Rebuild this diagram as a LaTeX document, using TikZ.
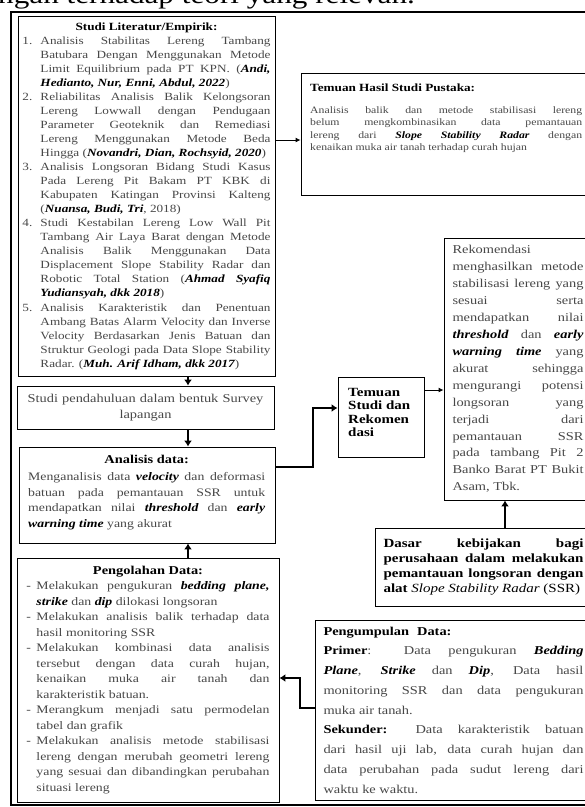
\documentclass[tikz,border=0pt]{standalone}
\usepackage{fontspec}
\setmainfont{Liberation Serif}[FakeStretch=1.2]
\usetikzlibrary{arrows.meta}
\definecolor{txt}{gray}{0.28}
\newcommand\SP{\spaceskip=0pt\xspaceskip=0pt\relax}
\newcommand\B[1]{\textcolor{black}{\bfseries #1}}
\newcommand\BI[1]{\textcolor{black}{\bfseries\itshape #1}}
\newcommand\JW[2]{\makebox[#1][s]{\SP #2}}
\newcommand\NI[2]{\makebox[18pt][l]{#1}\JW{230pt}{#2}}
\newcommand\CJ[1]{\hspace*{18pt}\JW{230pt}{#1}}
\newcommand\CL[1]{\hspace*{18pt}#1}
\newcommand\DashJ[1]{\makebox[10pt][l]{-}\JW{233pt}{#1}}
\newcommand\DashC[1]{\hspace*{10pt}\JW{233pt}{#1}}
\newcommand\DashL[1]{\hspace*{10pt}#1}
\newcommand\TS{\rule{0pt}{10pt}}
\tikzset{
  bx/.style={draw, line width=0.9pt, inner sep=0pt, rectangle},
  tx/.style={inner sep=0pt, align=left, text=txt},
  thinarr/.style={line width=0.9pt, -{Latex[length=5pt,width=5pt]}},
  thickarr/.style={line width=2.4pt, -{Latex[length=6pt,width=8pt]}},
}
\begin{document}
\begin{tikzpicture}[x=1pt,y=-1pt]
\useasboundingbox (0,0) rectangle (585,807);

% cut-off line of text at the top
\node[anchor=base west, inner sep=0pt, font=\fontsize{26}{26}\selectfont] (toptext) at (-2,3.7) {ngan terhadap teori yang relevan.};

% outer frame
\draw[line width=1.4pt] (600,12) -- (11,12) -- (11,805) -- (600,805);

% Studi literatur
\node[bx, minimum width=257pt, minimum height=360pt, text width=248pt, tx, font=\fontsize{11}{14.05}\selectfont] (lit) at (146.5,196) {\SP
\makebox[248pt]{\B{Studi Literatur/Empirik:}}\\
\NI{1.}{Analisis Stabilitas Lereng Tambang}\\
\CJ{Batubara Dengan Menggunakan Metode}\\
\CJ{Limit Equilibrium pada PT KPN. (\BI{Andi,}}\\
\CL{\BI{Hedianto, Nur, Enni, Abdul, 2022})}\\
\NI{2.}{Reliabilitas Analisis Balik Kelongsoran}\\
\CJ{Lereng Lowwall dengan Pendugaan}\\
\CJ{Parameter Geoteknik dan Remediasi}\\
\CJ{Lereng Menggunakan Metode Beda}\\
\CL{Hingga (\BI{Novandri, Dian, Rochsyid, 2020})}\\
\NI{3.}{Analisis Longsoran Bidang Studi Kasus}\\
\CJ{Pada Lereng Pit Bakam PT KBK di}\\
\CJ{Kabupaten Katingan Provinsi Kalteng}\\
\CL{(\BI{Nuansa, Budi, Tri}, 2018)}\\
\NI{4.}{Studi Kestabilan Lereng Low Wall Pit}\\
\CJ{Tambang Air Laya Barat dengan Metode}\\
\CJ{Analisis Balik Menggunakan Data}\\
\CJ{Displacement Slope Stability Radar dan}\\
\CJ{Robotic Total Station (\BI{Ahmad Syafiq}}\\
\CL{\BI{Yudiansyah, dkk 2018})}\\
\NI{5.}{Analisis Karakteristik dan Penentuan}\\
\CJ{Ambang Batas Alarm Velocity dan Inverse}\\
\CJ{Velocity Berdasarkan Jenis Batuan dan}\\
\CJ{Struktur Geologi pada Data Slope Stability}\\
\CL{Radar. (\BI{Muh. Arif Idham, dkk 2017})}};

% Studi pendahuluan
\node[bx, minimum width=257pt, minimum height=43pt, text width=250pt, tx, align=center, font=\fontsize{12}{16}\selectfont] (pend) at (145.5,407.5) {\SP Studi pendahuluan dalam bentuk Survey\\lapangan};

% Analisis data
\node[bx, minimum width=256pt, minimum height=96pt] (anal) at (147,495) {};
\node[tx, anchor=north west, text width=237pt, font=\fontsize{11.5}{15.5}\selectfont] (analtx) at (28,453) {\SP
\TS\makebox[237pt]{\B{\fontsize{12}{15.5}\selectfont Analisis data:}}\\[2pt]
\JW{237pt}{Menganalisis data \BI{velocity} dan deformasi}\\
\JW{237pt}{batuan pada pemantauan SSR untuk}\\
\JW{237pt}{mendapatkan nilai \BI{threshold} dan \BI{early}}\\
\BI{warning time} yang akurat};

% Pengolahan data
\node[bx, minimum width=262pt, minimum height=244pt, text width=243pt, tx, font=\fontsize{11.5}{15.5}\selectfont] (olah) at (148,680) {\SP
\makebox[243pt]{\B{\fontsize{12}{15.5}\selectfont Pengolahan Data:}}\\
\DashJ{Melakukan pengukuran \BI{bedding plane,}}\\
\DashL{\BI{strike} dan \BI{dip} dilokasi longsoran}\\
\DashJ{Melakukan analisis balik terhadap data}\\
\DashL{hasil monitoring SSR}\\
\DashJ{Melakukan kombinasi data analisis}\\
\DashC{tersebut dengan data curah hujan,}\\
\DashC{kenaikan muka air tanah dan}\\
\DashL{karakteristik batuan.}\\
\DashJ{Merangkum menjadi satu permodelan}\\
\DashL{tabel dan grafik}\\
\DashJ{Melakukan analisis metode stabilisasi}\\
\DashC{lereng dengan merubah geometri lereng}\\
\DashC{yang sesuai dan dibandingkan perubahan}\\
\DashL{situasi lereng}};

% Temuan hasil studi pustaka
\node[bx, minimum width=291pt, minimum height=122pt] (pust) at (446.5,134) {};
\node[tx, anchor=north west, text width=272pt, font=\fontsize{9.8}{12.5}\selectfont] (pusttx) at (310,81.6) {\SP
\TS\B{\fontsize{11}{12.5}\selectfont Temuan Hasil Studi Pustaka:}\\[8.9pt]
\JW{272pt}{Analisis balik dan metode stabilisasi lereng}\\
\JW{272pt}{belum mengkombinasikan data pemantauan}\\
\JW{272pt}{lereng dari \BI{Slope Stability Radar} dengan}\\
kenaikan muka air tanah terhadap curah hujan};

% Temuan studi dan rekomendasi
\node[bx, minimum width=86pt, minimum height=80pt] (temu) at (381,417) {};
\node[tx, text=black, anchor=north west, text width=70pt, font=\bfseries\fontsize{12.5}{13.4}\selectfont] (temutx) at (348,386) {\SP\TS Temuan\\Studi dan\\Rekomen\\dasi};

% Rekomendasi
\node[bx, minimum width=148pt, minimum height=262pt, text width=131pt, tx, font=\fontsize{12}{16.95}\selectfont] (rek) at (518,369) {\SP
Rekomendasi\\
\JW{131pt}{menghasilkan metode}\\
\JW{131pt}{stabilisasi lereng yang}\\
\JW{131pt}{sesuai serta}\\
\JW{131pt}{mendapatkan nilai}\\
\JW{131pt}{\BI{threshold} dan \BI{early}}\\
\JW{131pt}{\BI{warning time} yang}\\
\JW{131pt}{akurat sehingga}\\
\JW{131pt}{mengurangi potensi}\\
\JW{131pt}{longsoran yang}\\
\JW{131pt}{terjadi dari}\\
\JW{131pt}{pemantauan SSR}\\
\JW{131pt}{pada tambang Pit 2}\\
\JW{131pt}{Banko Barat PT Bukit}\\
Asam, Tbk.};

% Dasar kebijakan
\node[bx, minimum width=217pt, minimum height=78pt, text width=200pt, tx, text=black, font=\bfseries\fontsize{12.5}{15}\selectfont] (dasar) at (483.5,567) {\SP
\JW{200pt}{Dasar kebijakan bagi}\\
\JW{200pt}{perusahaan dalam melakukan}\\
\JW{200pt}{pemantauan longsoran dengan}\\
alat {\mdseries\itshape Slope Stability Radar} {\mdseries (SSR)}};

% Pengumpulan data
\node[bx, minimum width=277pt, minimum height=180pt, text width=260pt, tx, font=\fontsize{12}{19.75}\selectfont] (kump) at (453.5,710) {\SP
\B{Pengumpulan\hspace{8pt}Data:}\\
\JW{260pt}{\B{Primer}: Data pengukuran \BI{Bedding}}\\
\JW{260pt}{\BI{Plane}, \BI{Strike} dan \BI{Dip}, Data hasil}\\
\JW{260pt}{monitoring SSR dan data pengukuran}\\
muka air tanah.\\
\JW{260pt}{\B{Sekunder:} Data karakteristik batuan}\\
\JW{260pt}{dari hasil uji lab, data curah hujan dan}\\
\JW{260pt}{data perubahan pada sudut lereng dari}\\
waktu ke waktu.};

% connectors
\draw[thinarr] (lit.east |- 0,140) -- (pust.west |- 0,140);
\draw[thinarr] (temu.east |- 0,390) -- (rek.west |- 0,390);
\draw[thickarr] (lit.south -| 188,0) -- (pend.north -| 188,0);
\draw[thickarr] (pend.south -| 188,0) -- (anal.north -| 188,0);
\draw[thickarr] (olah.north -| 188,0) -- (anal.south -| 188,0);
\draw[thickarr] (anal.east |- 0,467) -- (313,467) -- (313,408) -- (temu.west |- 0,408);
\draw[thickarr] (dasar.north -| 505,0) -- (rek.south -| 505,0);
\draw[thickarr] (kump.west |- 0,708) -- (300,708) -- (300,678) -- (olah.east |- 0,678);
\end{tikzpicture}
\end{document}
